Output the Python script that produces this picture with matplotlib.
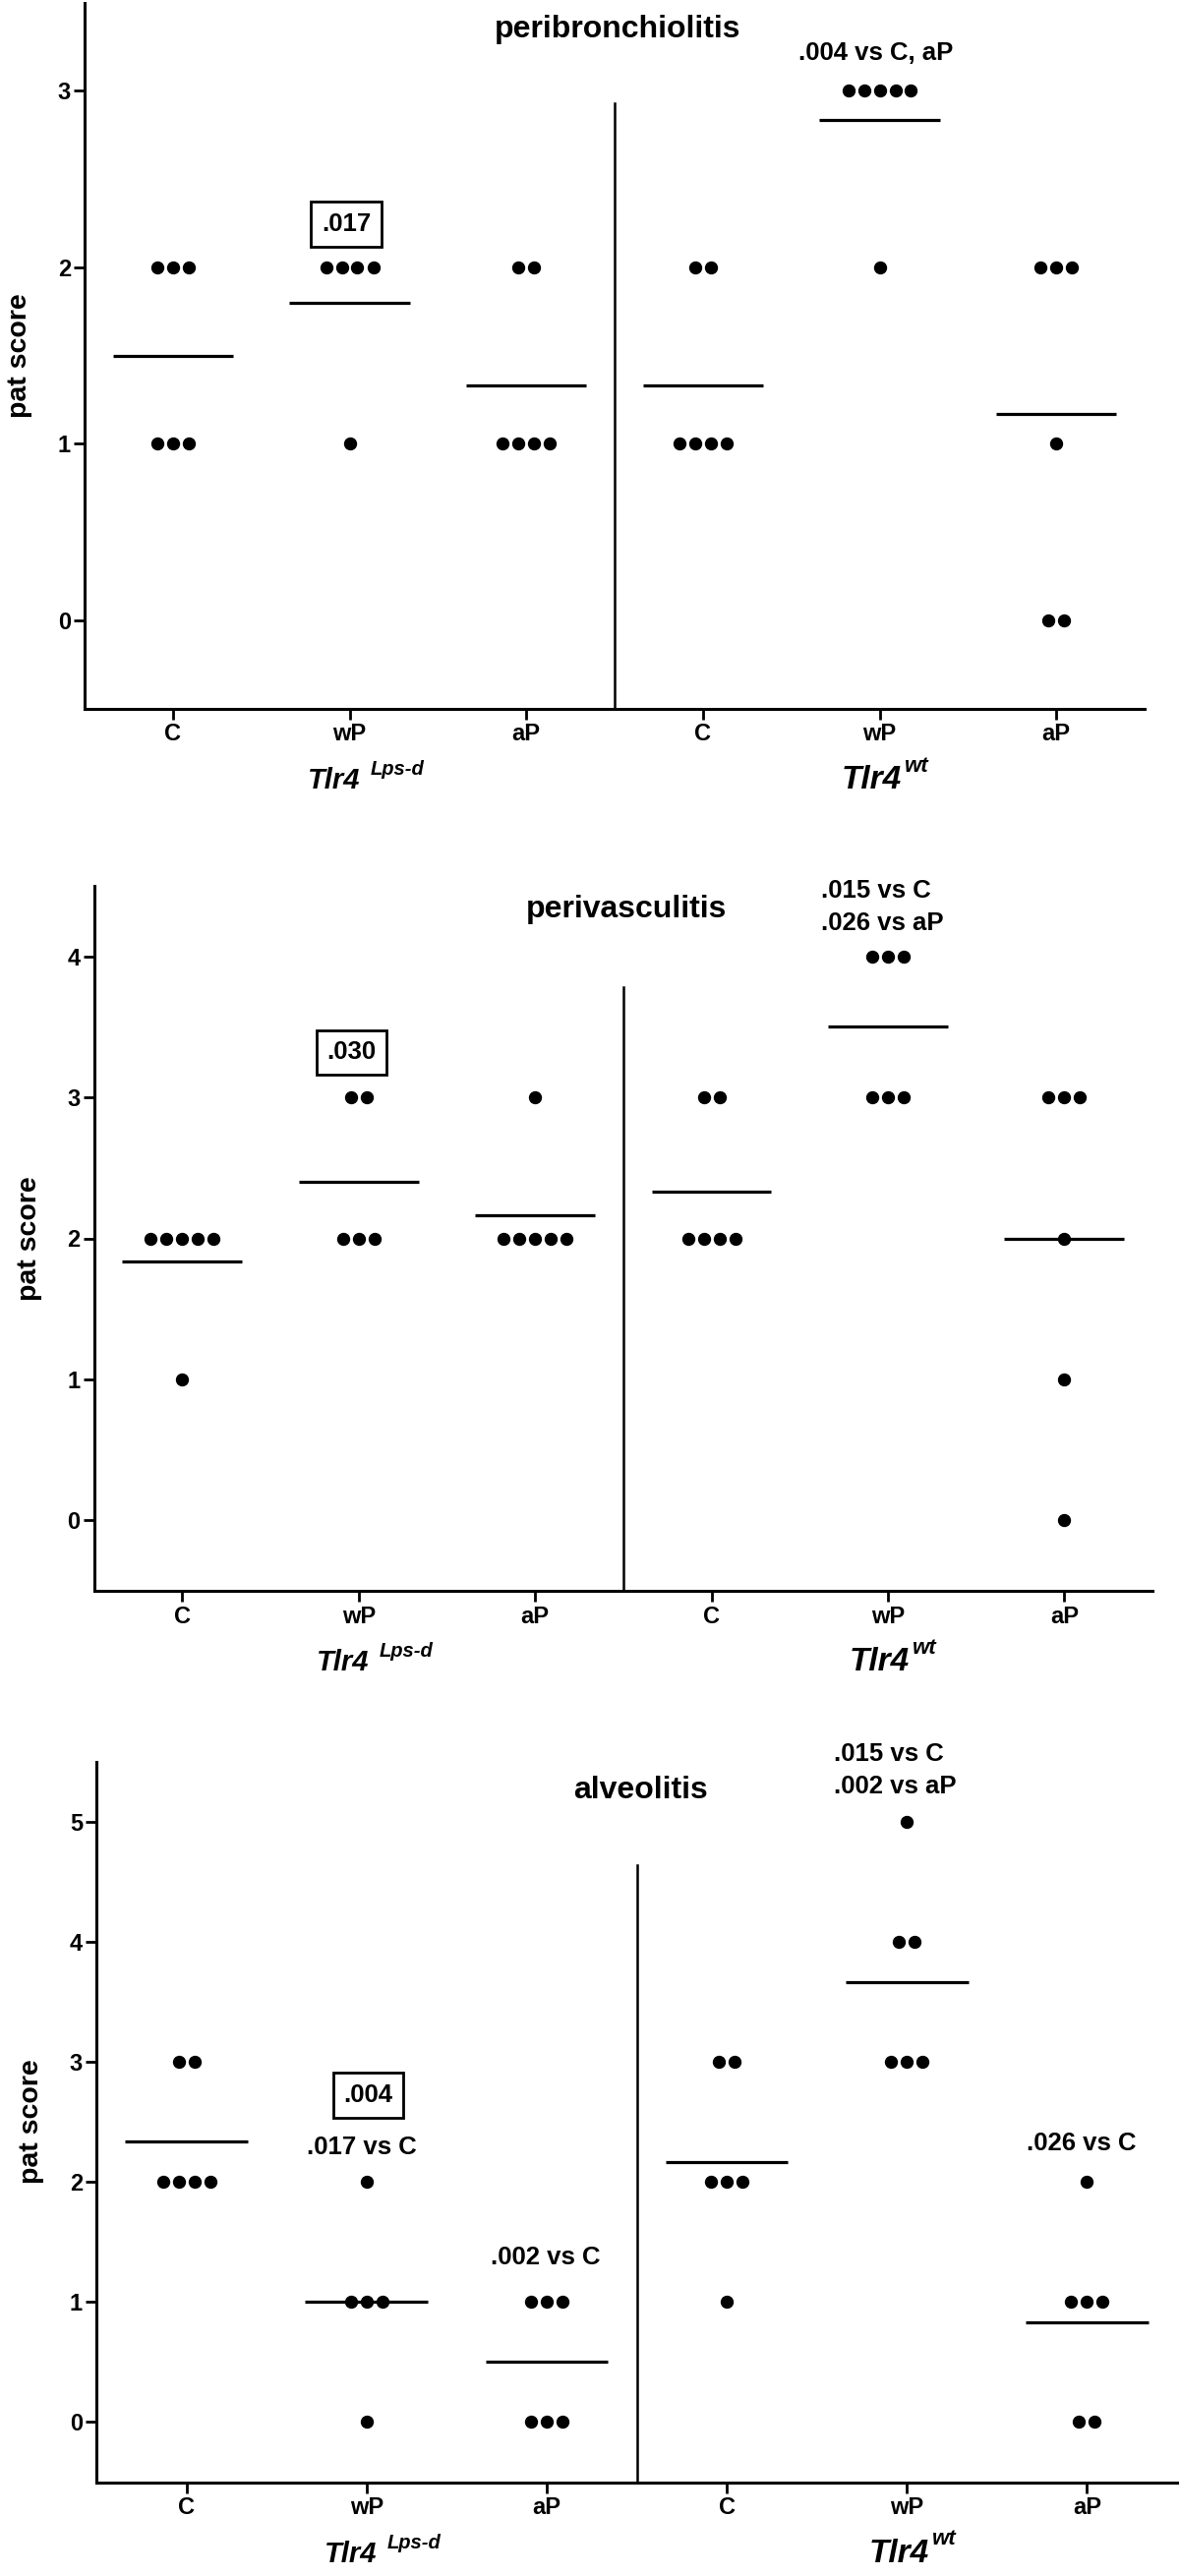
import matplotlib
matplotlib.use('Agg')
import matplotlib.pyplot as plt
import numpy as np

plt.rcParams['font.family'] = ['Liberation Sans', 'DejaVu Sans']
plt.rcParams['font.weight'] = 'bold'

# x categories: three vaccine groups in each of two mouse strains
groups = ["C", "wP", "aP", "C", "wP", "aP"]

# individual pathology scores, one list per group
peribronchiolitis = [
    [2, 2, 2, 1, 1, 1],
    [2, 2, 2, 2, 1],
    [2, 2, 1, 1, 1, 1],
    [2, 2, 1, 1, 1, 1],
    [3, 3, 3, 3, 3, 2],
    [2, 2, 2, 1, 0, 0],
]
perivasculitis = [
    [2, 2, 2, 2, 2, 1],
    [3, 3, 2, 2, 2],
    [3, 2, 2, 2, 2, 2],
    [3, 3, 2, 2, 2, 2],
    [4, 4, 4, 3, 3, 3],
    [3, 3, 3, 2, 1, 0],
]
alveolitis = [
    [3, 3, 2, 2, 2, 2],
    [2, 1, 1, 1, 0],
    [1, 1, 1, 0, 0, 0],
    [3, 3, 2, 2, 2, 1],
    [5, 4, 4, 3, 3, 3],
    [2, 1, 1, 1, 0, 0],
]

# p-value annotations: (text, x, y, boxed)
notes_peri = [(".017", 0.98, 2.246, True), (".004 vs C, aP", 3.98, 3.214, False)]
notes_periv = [(".030", 0.96, 3.318, True)]
notes_alv = [(".004", 1.01, 2.72, True), (".017 vs C", 0.975, 2.29, False),
             (".002 vs C", 1.995, 1.37, False), (".026 vs C", 4.968, 2.32, False)]
# left-aligned two-line notes: (lines, x_left, y_lines)
multi_periv = ([".015 vs C", ".026 vs aP"], 3.62, [4.465, 4.234])
multi_alv = ([".015 vs C", ".002 vs aP"], 3.595, [5.565, 5.29])

W, H = 1200, 2620
PX = 0.72  # points per pixel at dpi 100

fig = plt.figure(figsize=(W / 100, H / 100), dpi=100)


def make_axes(left, right, top, bottom):
    return fig.add_axes([left / W, 1 - bottom / H, (right - left) / W, (bottom - top) / H])


def draw_panel(ax, data, ylim, title, title_y, divider_top, notes, multi=None):
    ax.set_xlim(-0.5, 5.5)
    ax.set_ylim(*ylim)
    bbox = ax.get_window_extent()
    dx = 16 / (bbox.width / 6.0)  # 16 px between stacked dots

    for i, scores in enumerate(data):
        scores = np.array(scores)
        for v in np.unique(scores):
            n = int(np.sum(scores == v))
            xs = i + (np.arange(n) - (n - 1) / 2.0) * dx
            ax.plot(xs, [v] * n, 'o', color='black', ms=8.6, mec='black', zorder=4)
        m = scores.mean()
        ax.plot([i - 0.34, i + 0.34], [m, m], color='black', lw=2.3,
                solid_capstyle='butt', zorder=3)

    ax.plot([2.5, 2.5], [ylim[0], divider_top], color='black', lw=1.8, zorder=2)

    for sp in ['top', 'right']:
        ax.spines[sp].set_visible(False)
    for sp in ['left', 'bottom']:
        ax.spines[sp].set_linewidth(2.2)

    ax.set_xticks(range(len(groups)))
    ax.set_xticklabels(groups)
    ax.set_yticks(range(0, int(ylim[1]) + 1))
    ax.tick_params(axis='both', direction='out', length=8, width=2, labelsize=17)
    ax.tick_params(axis='y', pad=2)
    ax.tick_params(axis='x', pad=2.5)

    ax.set_ylabel("pat score", fontsize=20.5, fontweight='bold')
    ax.yaxis.label.set_va('center')
    ax.yaxis.set_label_coords(-66 / bbox.width, 0.5)

    ax.text(2.52, title_y, title, ha='center', va='center', fontsize=23)

    for txt, x, y, boxed in notes:
        kw = {}
        if boxed:
            kw['bbox'] = dict(boxstyle='square,pad=0.42', fc='white', ec='black', lw=2)
        ax.text(x, y, txt, ha='center', va='center', fontsize=18.5, zorder=5, **kw)
    if multi:
        lines, xl, ys = multi
        for txt, y in zip(lines, ys):
            ax.text(xl, y, txt, ha='left', va='center', fontsize=18.5)

    # strain labels under the axis
    trans = ('data', 'axes fraction')
    ax.annotate("Tlr4", xy=(1.06, 0), xycoords=trans, xytext=(0, -81 * PX),
                textcoords='offset points', ha='right', va='baseline',
                fontsize=21, fontstyle='italic')
    ax.annotate("Lps-d", xy=(1.06, 0), xycoords=trans, xytext=(10 * PX, -67 * PX),
                textcoords='offset points', ha='left', va='baseline',
                fontsize=14.5, fontstyle='italic')
    ax.annotate("Tlr4", xy=(4.125, 0), xycoords=trans, xytext=(0, -81 * PX),
                textcoords='offset points', ha='right', va='baseline',
                fontsize=24, fontstyle='italic')
    ax.annotate("wt", xy=(4.125, 0), xycoords=trans, xytext=(3 * PX, -64 * PX),
                textcoords='offset points', ha='left', va='baseline',
                fontsize=16, fontstyle='italic')


ax1 = make_axes(86, 1164, 2.6, 720.7)
draw_panel(ax1, peribronchiolitis, (-0.5, 3.5), "peribronchiolitis", 3.35, 2.93, notes_peri)

ax2 = make_axes(95.6, 1172, 901, 1618)
draw_panel(ax2, perivasculitis, (-0.5, 4.5), "perivasculitis", 4.33, 3.78, notes_periv, multi_periv)

ax3 = make_axes(98, 1197, 1791.6, 2524.5)
draw_panel(ax3, alveolitis, (-0.5, 5.5), "alveolitis", 5.26, 4.64, notes_alv, multi_alv)

fig.savefig("out.png", dpi=100, facecolor='white')
